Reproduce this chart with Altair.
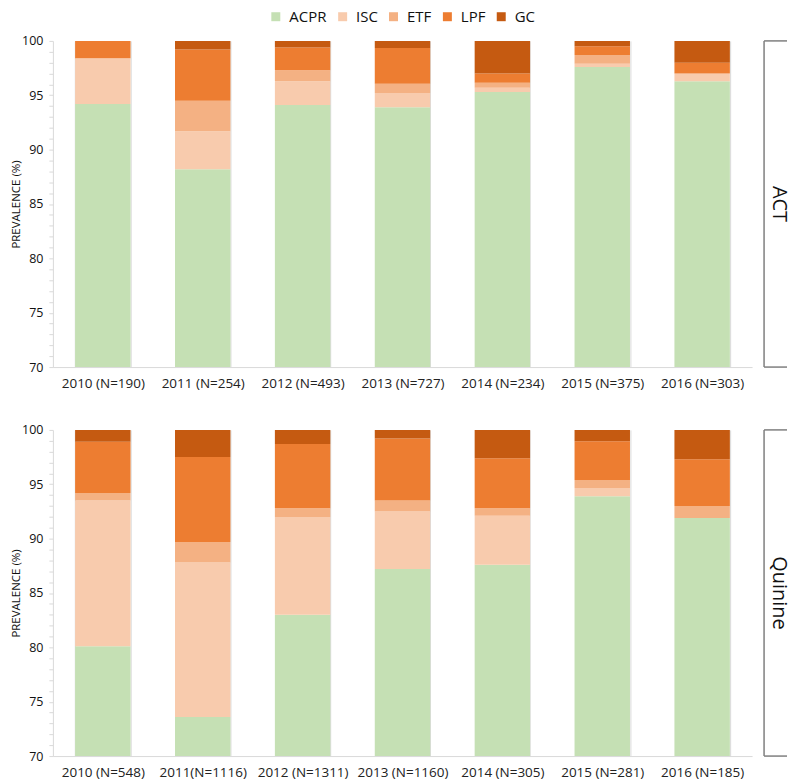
import altair as alt
import pandas as pd

series = ["ACPR", "ISC", "ETF", "LPF", "GC"]
colors = ["#c5e0b4", "#f8cbad", "#f4b183", "#ed7d31", "#c55a11"]

act_labels = ["2010 (N=190)", "2011 (N=254)", "2012 (N=493)", "2013 (N=727)",
              "2014 (N=234)", "2015 (N=375)", "2016 (N=303)"]
act_acpr = [94.2, 88.2, 94.1, 93.9, 95.3, 97.6, 96.3]
act_isc = [4.2, 3.5, 2.2, 1.3, 0.4, 0.3, 0.7]
act_etf = [0.0, 2.8, 1.0, 0.85, 0.45, 0.8, 0.0]
act_lpf = [1.6, 4.7, 2.1, 3.3, 0.85, 0.8, 1.0]
act_gc = [0.0, 0.8, 0.6, 0.65, 3.0, 0.5, 2.0]

q_labels = ["2010 (N=548)", "2011(N=1116)", "2012 (N=1311)", "2013 (N=1160)",
            "2014 (N=305)", "2015 (N=281)", "2016 (N=185)"]
q_acpr = [80.1, 73.6, 83.0, 87.2, 87.6, 93.9, 91.9]
q_isc = [13.4, 14.2, 9.0, 5.3, 4.5, 0.75, 0.0]
q_etf = [0.7, 1.9, 0.8, 1.0, 0.7, 0.75, 1.1]
q_lpf = [4.7, 7.8, 5.9, 5.7, 4.6, 3.55, 4.3]
q_gc = [1.1, 2.5, 1.3, 0.8, 2.6, 1.05, 2.7]

FONT = "Open Sans"
BOX_W = 23
W = 701
H = 327


def make_df(labels, cols):
    rows = []
    for i, lab in enumerate(labels):
        for k, s in enumerate(series):
            rows.append({"cat": lab, "series": s, "order": k, "value": cols[k][i]})
    return pd.DataFrame(rows)


def bars(df, labels):
    return alt.Chart(df).mark_bar(clip=True).encode(
        x=alt.X("cat:N", sort=labels, title=None,
                scale=alt.Scale(paddingInner=0.445, paddingOuter=0.2225),
                axis=alt.Axis(labelAngle=0, tickBand="extent", grid=True,
                              gridColor="#d9d9d9", ticks=False,
                              domainColor="#d9d9d9", labelFont=FONT,
                              labelFontSize=13.5, labelColor="#222",
                              labelPadding=9)),
        y=alt.Y("value:Q", stack="zero", title="PREVALENCE (%)",
                scale=alt.Scale(domain=[70, 100], nice=False),
                axis=alt.Axis(values=list(range(70, 101)),
                              labelExpr="datum.value % 5 == 0 ? datum.value : ''",
                              labelOverlap=False, grid=False, tickSize=4,
                              tickColor="#d9d9d9", domainColor="#d9d9d9",
                              labelFont=FONT, labelFontSize=12.5,
                              labelColor="#111", labelPadding=6,
                              titleFont=FONT, titleFontSize=11.5,
                              titleFontWeight="normal", titleColor="#111",
                              titlePadding=0)),
        color=alt.Color("series:N", scale=alt.Scale(domain=series, range=colors),
                        legend=alt.Legend(orient="none", legendX=216, legendY=-32,
                                          padding=0,
                                          direction="horizontal", title=None,
                                          symbolType="square", symbolSize=81,
                                          labelFont=FONT, labelFontSize=15,
                                          labelColor="#111", columnPadding=8,
                                          labelOffset=6, symbolStrokeWidth=0)),
        order=alt.Order("order:Q"),
    ).properties(width=W, height=H, view=alt.ViewBackground(stroke=None))


def label_chart(text):
    base = alt.Chart(pd.DataFrame({"t": [text]}))
    txt = base.mark_text(angle=90, fontSize=20, font=FONT, color="#111").encode(
        text="t:N", x=alt.value(15), y=alt.value(H / 2))
    left = base.mark_rule(color="#7f7f7f", strokeWidth=1.5).encode(
        x=alt.value(0), y=alt.value(0), y2=alt.value(H))
    top_l = base.mark_rule(color="#7f7f7f", strokeWidth=1.5).encode(
        x=alt.value(0), x2=alt.value(BOX_W), y=alt.value(0))
    bot_l = base.mark_rule(color="#7f7f7f", strokeWidth=1.5).encode(
        x=alt.value(0), x2=alt.value(BOX_W), y=alt.value(H))
    return alt.layer(left, top_l, bot_l, txt).properties(
        width=BOX_W, height=H, view=alt.ViewBackground(stroke=None))


act_df = make_df(act_labels, [act_acpr, act_isc, act_etf, act_lpf, act_gc])
q_df = make_df(q_labels, [q_acpr, q_isc, q_etf, q_lpf, q_gc])

top = alt.hconcat(bars(act_df, act_labels), label_chart("ACT"), spacing=11)
bottom = alt.hconcat(bars(q_df, q_labels), label_chart("Quinine"), spacing=11)

chart = alt.vconcat(top, bottom, spacing=34).properties(
    padding={"left": 2, "top": 0, "right": 0, "bottom": 0}
).resolve_scale(x="independent")

chart.save("out.html", embed_options={"renderer": "svg", "actions": False})
